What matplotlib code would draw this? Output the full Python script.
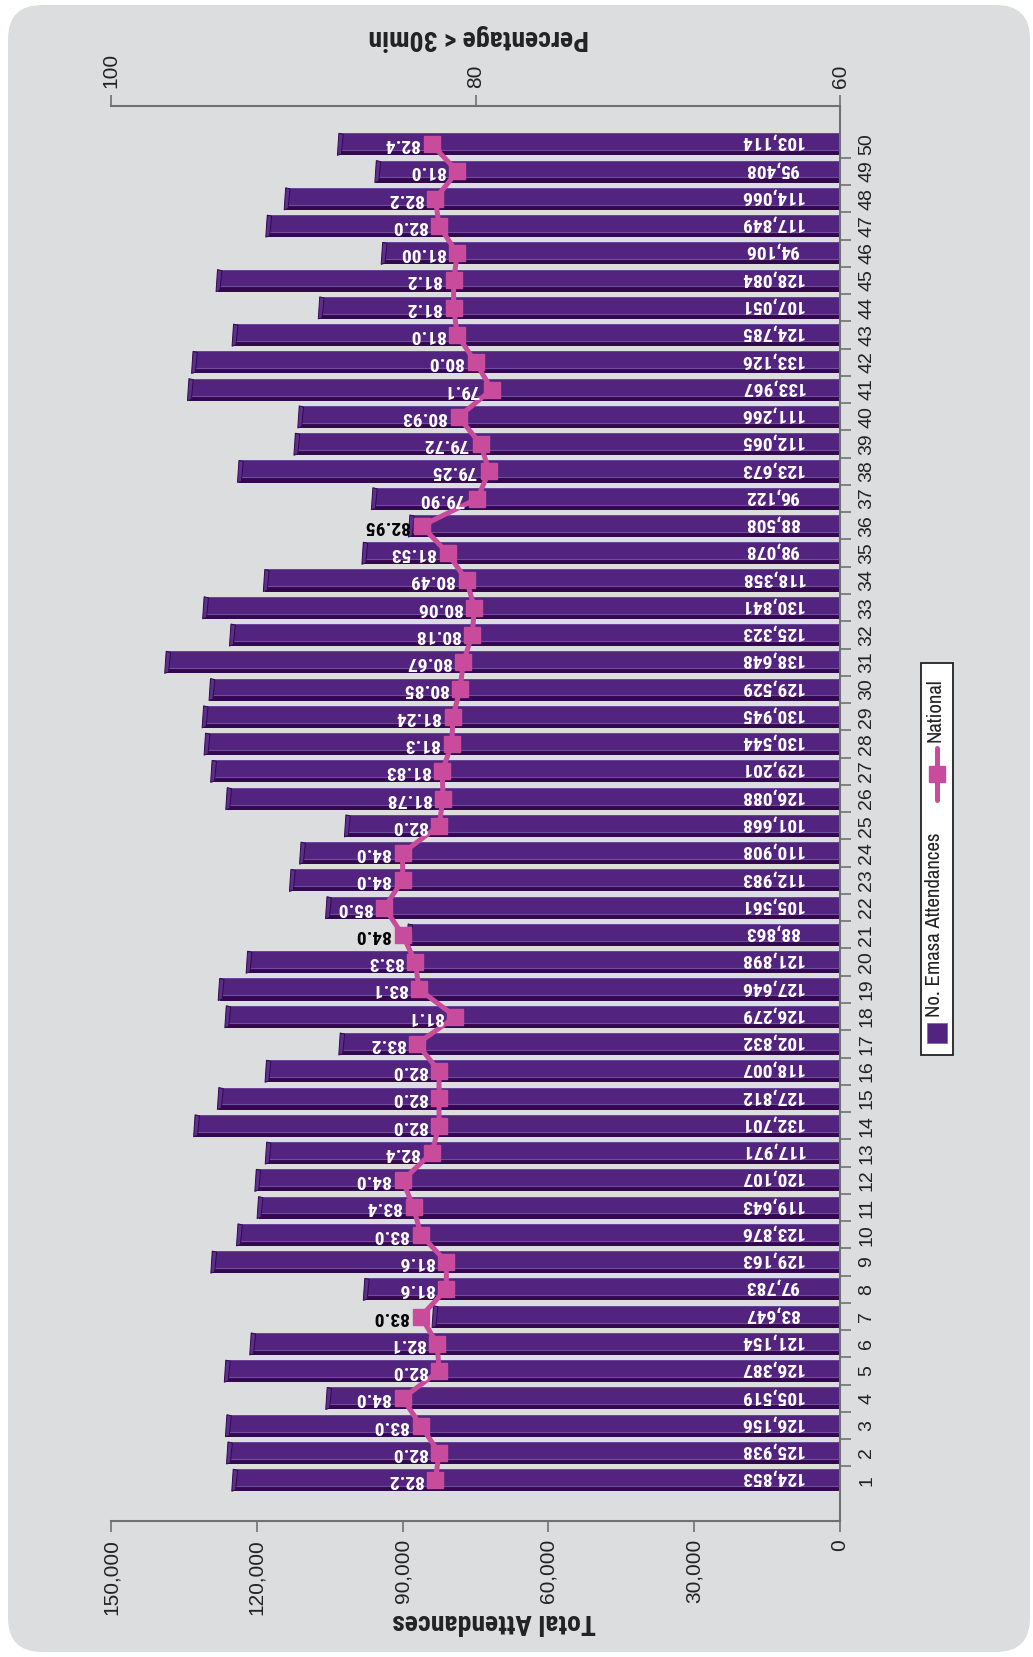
import matplotlib
matplotlib.use("Agg")
import matplotlib.pyplot as plt
from matplotlib.patches import FancyBboxPatch, Rectangle, Polygon
from matplotlib.lines import Line2D
import numpy as np

# ---------------- data ----------------
categories = list(range(1, 51))
attendances = [124853, 125938, 126156, 105519, 126387, 121154, 83647, 97783, 129163, 123876,
               119643, 120107, 117971, 132701, 127812, 118007, 102832, 126279, 127646, 121898,
               88863, 105561, 112983, 110908, 101668, 126088, 129201, 130544, 130945, 129529,
               138648, 125323, 130841, 118358, 98078, 88508, 96122, 123673, 112065, 111266,
               133967, 133126, 124785, 107051, 128084, 94106, 117849, 114066, 95408, 103114]
pct_text = ["82.2", "82.0", "83.0", "84.0", "82.0", "82.1", "83.0", "81.6", "81.6", "83.0",
            "83.4", "84.0", "82.4", "82.0", "82.0", "82.0", "83.2", "81.1", "83.1", "83.3",
            "84.0", "85.0", "84.0", "84.0", "82.0", "81.78", "81.83", "81.3", "81.24", "80.85",
            "80.67", "80.18", "80.06", "80.49", "81.53", "82.95", "79.90", "79.25", "79.72", "80.93",
            "79.1", "80.0", "81.0", "81.2", "81.2", "81.00", "82.0", "82.2", "81.0", "82.4"]
percentages = [float(s) for s in pct_text]
att_ticks = [0, 30000, 60000, 90000, 120000, 150000]
pct_ticks = [60, 80, 100]
series_names = ["No. Emasa Attendances", "National"]
axis_titles = ["Total Attendances", "Percentage < 30min"]

# ---------------- style ----------------
W, H = 1033, 1657
BG = "#dcdddf"
FACE = "#52247f"
DARK = "#33084f"
EDGE = "#6e4f9c"
CAP = "#5d2f8c"
PINK = "#c94c9c"
AXC = "#707070"
TXT = "#222222"
REG = ["Liberation Sans", "DejaVu Sans"]
COND = ["Roboto Condensed", "Liberation Sans", "DejaVu Sans"]
NARROW = ["Archivo Narrow", "Liberation Sans", "DejaVu Sans"]

fig = plt.figure(figsize=(W / 100, H / 100), dpi=100)
fig.patch.set_facecolor("white")

panel = FancyBboxPatch((0.08, 0.05), 10.22, 16.47,
                       boxstyle="round,pad=0,rounding_size=0.34",
                       transform=fig.dpi_scale_trans, fc=BG, ec="none", zorder=-10)
fig.patches.append(panel)

def fx(x):
    return x / W

def fy(y):
    return 1 - y / H

ax = fig.add_axes([fx(111), fy(1521), fx(840) - fx(111), fy(106) - fy(1521)])
ax.set_facecolor("none")
cats = np.array(categories, dtype=float)
vals = np.array(attendances, dtype=float)

ax.set_xlim(150000, 0)
ax.set_ylim(-0.5, 51.4)

# 3D-like bars: dark lower strip + face + end cap
ax.barh(cats - 0.315, vals, height=0.19, color=DARK, zorder=2, linewidth=0)
ax.barh(cats + 0.09, vals, height=0.62, color=FACE, zorder=2, linewidth=0)
ax.hlines(cats - 0.22, 0, vals, color=EDGE, lw=0.8, zorder=3)
ax.hlines(cats + 0.40, 0, vals, color=EDGE, lw=0.6, zorder=3)
for c, v in zip(cats, vals):
    cap = Polygon([(v + 300, c - 0.41), (v - 500, c - 0.36), (v - 900, c + 0.36), (v, c + 0.40)],
                  closed=True, fc=CAP, ec=DARK, lw=0.7, zorder=3)
    ax.add_patch(cap)
    ax.text(14000, c + 0.08, f"{int(v):,}", rotation=180, ha="center", va="center",
            color="white", fontsize=14, fontweight="bold", family=COND, zorder=4)

# axes styling
for s in ["left", "top"]:
    ax.spines[s].set_visible(False)
for s in ["bottom", "right"]:
    ax.spines[s].set_color(AXC)
    ax.spines[s].set_linewidth(1.5)

ax.set_xticks(att_ticks)
ax.set_xticklabels([f"{t:,}" for t in att_ticks], rotation=90, fontsize=15, color=TXT, family=REG)
ax.tick_params(axis="x", direction="out", length=8, width=1.2, color=AXC, pad=5)

ax.yaxis.set_ticks_position("right")
ax.set_yticks(cats)
ax.set_yticklabels([str(c) for c in categories], rotation=90, fontsize=14, color=TXT,
                   family=REG, va="center")
ax.set_yticks(cats[:-1] + 0.5, minor=True)
ax.tick_params(axis="y", which="major", length=0, pad=13, labelright=True, labelleft=False)
ax.tick_params(axis="y", which="minor", direction="out", length=8, width=1.2, color=AXC,
               right=True, left=False)

# percentage axis (top)
ax2 = ax.twiny()
ax2.set_xlim(100, 60)
ax2.set_facecolor("none")
for s in ["left", "bottom", "right"]:
    ax2.spines[s].set_visible(False)
ax2.spines["top"].set_color(AXC)
ax2.spines["top"].set_linewidth(1.5)
ax2.set_xticks(pct_ticks)
ax2.set_xticklabels([str(t) for t in pct_ticks], rotation=90, fontsize=15, color=TXT, family=REG)
ax2.tick_params(axis="x", direction="out", length=8, width=1.2, color=AXC, pad=5)

ax2.plot(percentages, cats, color=PINK, lw=3.6, marker="s", ms=11, mfc=PINK, mec=PINK,
         zorder=5, solid_joinstyle="miter")
for c, p, t, v in zip(cats, percentages, pct_text, vals):
    bar_end_pct = 60 + v * 40 / 150000
    col = "black" if p + 0.8 >= bar_end_pct else "white"
    ax2.annotate(t, (p, c), xytext=(-9, 0), textcoords="offset points", rotation=180,
                 ha="right", va="center", color=col, fontsize=14, fontweight="bold",
                 family=COND, zorder=6)

# axis titles (upside-down, as in the rotated original)
fig.text(fx(494), fy(1621), axis_titles[0], rotation=180, ha="center", va="center",
         fontsize=20, fontweight="bold", color=TXT, family=COND)
fig.text(fx(479), fy(38), axis_titles[1], rotation=180, ha="center", va="center",
         fontsize=20, fontweight="bold", color=TXT, family=COND)

# legend (vertical)
fig.patches.append(Rectangle((fx(921), fy(1055)), fx(953) - fx(921), fy(663) - fy(1055),
                             transform=fig.transFigure, fc="white", ec="#222222", lw=1.3, zorder=1))
fig.patches.append(Rectangle((fx(927), fy(1043)), fx(947) - fx(927), fy(1023) - fy(1043),
                             transform=fig.transFigure, fc=FACE, ec="#777777", lw=0.6, zorder=2))
fig.text(fx(935), fy(1017), series_names[0], rotation=90, ha="center", va="bottom",
         fontsize=15, color=TXT, family=NARROW, zorder=3)
fig.lines.append(Line2D([fx(937), fx(937)], [fy(800), fy(748)], transform=fig.transFigure,
                        color=PINK, lw=3.6, solid_capstyle="round", zorder=3))
fig.lines.append(Line2D([fx(937)], [fy(774)], transform=fig.transFigure, color=PINK,
                        marker="s", ms=12, mfc=PINK, mec=PINK, zorder=4))
fig.text(fx(935), fy(742), series_names[1], rotation=90, ha="center", va="bottom",
         fontsize=15, color=TXT, family=NARROW, zorder=3)

fig.savefig("out.png", dpi=100, facecolor="white")
